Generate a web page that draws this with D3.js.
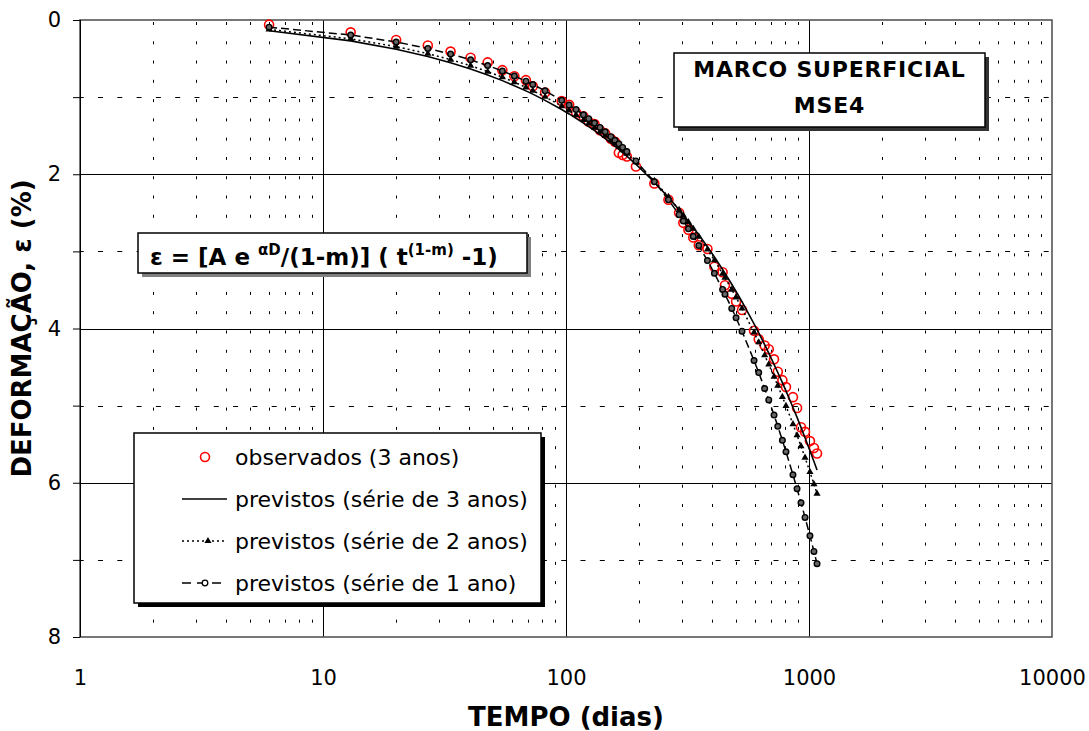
<!DOCTYPE html>
<html><head><meta charset="utf-8">
<script src="https://cdn.jsdelivr.net/npm/d3@7"></script>
<style>body{margin:0;background:#fff}svg{display:block}</style>
</head><body><svg id="c" width="1089" height="731"></svg>
<script>
const days = [6,13,20,27,33.5,40.5,47.6,54.7,61.3,68.4,73,82,96,103,110,118,124,131,138,145,153,159,165,171,178,194,231,264,292,304,319,334,352,382,408,441,451,481,501,530,594,621,657,683,718,744,777,804,859,893,927,963,1009,1048,1079];
const observados = [0.06,0.16,0.26,0.33,0.41,0.49,0.55,0.65,0.73,0.78,0.86,0.94,1.05,1.10,1.20,1.25,1.32,1.35,1.43,1.47,1.54,1.58,1.72,1.75,1.77,1.90,2.12,2.33,2.50,2.63,2.72,2.82,2.92,2.97,3.20,3.27,3.44,3.55,3.65,3.76,4.03,4.14,4.22,4.27,4.40,4.56,4.67,4.76,4.89,5.03,5.28,5.34,5.46,5.55,5.62];
const previstos3 = [0.139,0.271,0.379,0.474,0.554,0.635,0.713,0.786,0.852,0.919,0.961,1.042,1.161,1.218,1.274,1.337,1.383,1.435,1.487,1.537,1.594,1.636,1.678,1.719,1.766,1.871,2.104,2.300,2.460,2.527,2.609,2.690,2.785,2.941,3.072,3.235,3.284,3.426,3.520,3.653,3.939,4.056,4.210,4.319,4.464,4.570,4.702,4.809,5.024,5.153,5.282,5.416,5.584,5.725,5.836];
const previstos2 = [0.122,0.244,0.345,0.436,0.514,0.593,0.669,0.741,0.806,0.873,0.915,0.996,1.116,1.174,1.231,1.295,1.341,1.395,1.448,1.500,1.558,1.602,1.644,1.687,1.735,1.845,2.087,2.294,2.463,2.534,2.621,2.707,2.809,2.974,3.115,3.290,3.342,3.496,3.597,3.741,4.051,4.179,4.347,4.466,4.625,4.741,4.886,5.004,5.240,5.384,5.526,5.674,5.861,6.018,6.141];
const previstos1 = [0.093,0.195,0.285,0.368,0.441,0.517,0.590,0.661,0.726,0.793,0.836,0.918,1.042,1.103,1.162,1.229,1.279,1.337,1.393,1.449,1.513,1.559,1.606,1.652,1.706,1.827,2.097,2.331,2.524,2.606,2.707,2.806,2.925,3.119,3.285,3.493,3.555,3.740,3.862,4.037,4.415,4.571,4.778,4.926,5.123,5.268,5.450,5.598,5.896,6.078,6.259,6.449,6.688,6.890,7.049];
const xTickValues = [1,10,100,1000,10000];
const xTickLabels = ["1","10","100","1000","10000"];
const yTickValues = [0,2,4,6,8];
const yHalfValues = [1,3,5,7];
const legendLabels = ["observados (3 anos)","previstos (série de 3 anos)","previstos (série de 2 anos)","previstos (série de 1 ano)"];
const titleLines = ["MARCO SUPERFICIAL","MSE4"];
const xTitle = "TEMPO (dias)";
const yTitle = "DEFORMAÇÃO, ε (%)";

const FONT = "'DejaVu Sans', Verdana, sans-serif";
const svg = d3.select("#c");
const x = d3.scaleLog().domain([1,10000]).range([80,1052]);
const y = d3.scaleLinear().domain([0,8]).range([20,637]);
const [X0,X1] = x.range(), [Y0,Y1] = y.range();

// grid: minor verticals (2..9 of each decade)
const minorX = x.ticks().filter(v => !xTickValues.includes(v));
svg.append("g").selectAll("line").data(minorX).join("line")
  .attr("x1", d=>Math.round(x(d))+0.5).attr("x2", d=>Math.round(x(d))+0.5)
  .attr("y1", Y0).attr("y2", Y1)
  .attr("stroke","#000").attr("stroke-width",1)
  .attr("stroke-dasharray","3 16.28").attr("stroke-dashoffset",-2);
// dashed horizontals
svg.append("g").selectAll("line").data(yHalfValues).join("line")
  .attr("x1", X0).attr("x2", X1)
  .attr("y1", d=>Math.round(y(d))+0.5).attr("y2", d=>Math.round(y(d))+0.5)
  .attr("stroke","#000").attr("stroke-width",1)
  .attr("stroke-dasharray","5 14.3").attr("stroke-dashoffset",-18);
// solid majors
svg.append("g").selectAll("line").data(xTickValues.slice(1,-1)).join("line")
  .attr("x1", d=>Math.round(x(d))+0.5).attr("x2", d=>Math.round(x(d))+0.5)
  .attr("y1", Y0).attr("y2", Y1).attr("stroke","#000").attr("stroke-width",1);
svg.append("g").selectAll("line").data(yTickValues.slice(1,-1)).join("line")
  .attr("x1", X0).attr("x2", X1)
  .attr("y1", d=>Math.round(y(d))+0.5).attr("y2", d=>Math.round(y(d))+0.5)
  .attr("stroke","#000").attr("stroke-width",1);

// frame
svg.append("rect").attr("x",X0).attr("y",Y0).attr("width",X1-X0).attr("height",Y1-Y0)
  .attr("fill","none").attr("stroke","#555").attr("stroke-width",1.6);
svg.append("line").attr("x1",X0+0.5).attr("x2",X0+0.5).attr("y1",Y0).attr("y2",Y1).attr("stroke","#000");

// y axis ticks and labels
const yAxis = d3.axisLeft(y).tickValues(d3.range(0,9)).tickSize(7)
  .tickFormat(d => yTickValues.includes(d) ? String(d) : "");
const ya = svg.append("g").attr("transform",`translate(${X0},0)`).call(yAxis);
ya.select(".domain").remove();
ya.selectAll("text").attr("font-family",FONT).attr("font-size",21).attr("fill","#000").attr("x",-19);
ya.selectAll("line").attr("stroke","#000");

// x axis labels
const xAxis = d3.axisBottom(x).tickValues(xTickValues).tickSize(0)
  .tickFormat((d,i) => xTickLabels[i]);
const xa = svg.append("g").attr("transform",`translate(0,${Y1})`).call(xAxis);
xa.select(".domain").remove();
xa.selectAll("text").attr("font-family",FONT).attr("font-size",21).attr("fill","#000").attr("dy",0).attr("y",48);

// axis titles
svg.append("text").attr("x",(X0+X1)/2).attr("y",726).attr("text-anchor","middle")
  .attr("font-family",FONT).attr("font-weight","bold").attr("font-size",26).text(xTitle);
svg.append("text").attr("transform",`translate(31,${(Y0+Y1)/2}) rotate(-90)`).attr("text-anchor","middle")
  .attr("font-family",FONT).attr("font-weight","bold").attr("font-size",26).text(yTitle);

// series
const pts = arr => days.map((t,i)=>({t, v:arr[i]}));
const line = d3.line().x(d=>x(d.t)).y(d=>y(d.v));
const obs = pts(observados);
svg.append("g").selectAll("circle").data(obs).join("circle")
  .attr("cx",d=>x(d.t)).attr("cy",d=>y(d.v)).attr("r",4.5)
  .attr("fill","none").attr("stroke","#ff0000").attr("stroke-width",1.6);

svg.append("path").datum(pts(previstos3)).attr("d",line)
  .attr("fill","none").attr("stroke","#000").attr("stroke-width",1.6);
svg.append("path").datum(pts(previstos2)).attr("d",line)
  .attr("fill","none").attr("stroke","#000").attr("stroke-width",1.5).attr("stroke-dasharray","2 3");
const tri = d3.symbol().type(d3.symbolTriangle).size(22);
svg.append("g").selectAll("path").data(pts(previstos2)).join("path")
  .attr("transform",d=>`translate(${x(d.t)},${y(d.v)})`).attr("d",tri).attr("fill","#000");
svg.append("path").datum(pts(previstos1)).attr("d",line)
  .attr("fill","none").attr("stroke","#000").attr("stroke-width",1.5).attr("stroke-dasharray","8 4");
svg.append("g").selectAll("circle").data(pts(previstos1)).join("circle")
  .attr("cx",d=>x(d.t)).attr("cy",d=>y(d.v)).attr("r",2.8)
  .attr("fill","#666").attr("stroke","#000").attr("stroke-width",1.4);

// boxes
function box(bx,by,bw,bh,shadow){
  svg.append("rect").attr("x",bx+4).attr("y",by+4).attr("width",bw).attr("height",bh).attr("fill",shadow);
  svg.append("rect").attr("x",bx).attr("y",by).attr("width",bw).attr("height",bh)
    .attr("fill","#fff").attr("stroke","#000").attr("stroke-width",1.5);
}
box(674,53,311,74,"#333");
svg.append("g").selectAll("text").data(titleLines).join("text")
  .attr("x",829.5).attr("y",(d,i)=>77+i*36).attr("text-anchor","middle")
  .attr("font-family",FONT).attr("font-weight","bold").attr("font-size",22).attr("letter-spacing",0.8)
  .text(d=>d);

// formula box
box(138,233,389,40,"#808080");
const ft = svg.append("text").attr("x",150).attr("y",265).attr("font-family",FONT)
  .attr("font-weight","bold").attr("font-size",23).attr("fill","#000");
ft.append("tspan").text("ε = [A e ");
ft.append("tspan").attr("dy",-10).attr("font-size",15).text("αD");
ft.append("tspan").attr("dy",10).text("/(1-m)] ( t");
ft.append("tspan").attr("dy",-10).attr("font-size",15).text("(1-m)");
ft.append("tspan").attr("dy",10).text(" -1)");

// legend
box(134,433,407,170,"#000");
const rows = [457,499,541,583];
const lg = svg.append("g");
lg.selectAll("text").data(legendLabels).join("text")
  .attr("x",235).attr("y",(d,i)=>rows[i]).attr("dy","0.36em")
  .attr("font-family",FONT).attr("font-size",22).attr("fill","#000").text(d=>d);
lg.append("circle").attr("cx",205).attr("cy",rows[0]).attr("r",4.5)
  .attr("fill","none").attr("stroke","#ff0000").attr("stroke-width",1.6);
lg.append("line").attr("x1",182).attr("x2",227).attr("y1",rows[1]).attr("y2",rows[1]).attr("stroke","#000").attr("stroke-width",1.5);
lg.append("line").attr("x1",182).attr("x2",227).attr("y1",rows[2]).attr("y2",rows[2]).attr("stroke","#000").attr("stroke-width",1.5).attr("stroke-dasharray","2 3");
lg.append("path").attr("transform",`translate(208,${rows[2]})`).attr("d",tri).attr("fill","#000");
lg.append("line").attr("x1",182).attr("x2",227).attr("y1",rows[3]).attr("y2",rows[3]).attr("stroke","#000").attr("stroke-width",1.5).attr("stroke-dasharray","9 6");
lg.append("circle").attr("cx",205).attr("cy",rows[3]).attr("r",2.8).attr("fill","#fff").attr("stroke","#000").attr("stroke-width",1.3);
</script></body></html>
